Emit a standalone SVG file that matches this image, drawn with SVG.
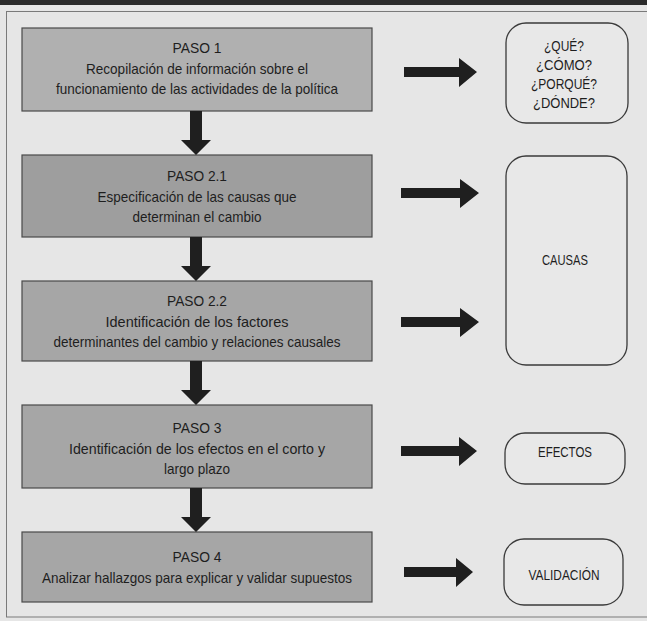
<svg xmlns="http://www.w3.org/2000/svg" width="647" height="621" viewBox="0 0 647 621">
<style>
.bg{fill:#e6e6e6}
.step{fill:#a6a6a6;stroke:#4a4a4a;stroke-width:1.2}
.out{fill:#e8e8e8;stroke:#3a3a3a;stroke-width:1.3}
.t{font-family:"Liberation Sans",Arial,sans-serif;font-size:15px;fill:#1e1e1e;text-anchor:middle}
.r{font-family:"Liberation Sans",Arial,sans-serif;font-size:14px;fill:#1e1e1e;text-anchor:middle}
.arr{fill:#1f1f1f}
</style>
<rect class="bg" x="0" y="0" width="647" height="621"/>
<rect x="0" y="0" width="647" height="5" fill="#2b2b2b"/>
<rect x="6.5" y="11.5" width="660" height="605.5" fill="none" stroke="#7a7a7a" stroke-width="1"/>

<g id="paso1">
<rect class="step" x="22" y="28" width="350" height="83" style="fill:#b0b0b0"/>
<text class="t" x="197" y="53" textLength="49" lengthAdjust="spacingAndGlyphs">PASO 1</text>
<text class="t" x="197" y="74" textLength="222" lengthAdjust="spacingAndGlyphs">Recopilación de información sobre el</text>
<text class="t" x="197" y="94" textLength="282" lengthAdjust="spacingAndGlyphs">funcionamiento de las actividades de la política</text>
</g>
<g id="paso21">
<rect class="step" x="22" y="155" width="350" height="82" style="fill:#9e9e9e"/>
<text class="t" x="197" y="181" textLength="60" lengthAdjust="spacingAndGlyphs">PASO 2.1</text>
<text class="t" x="197" y="202" textLength="199" lengthAdjust="spacingAndGlyphs">Especificación de las causas que</text>
<text class="t" x="197" y="222" textLength="129" lengthAdjust="spacingAndGlyphs">determinan el cambio</text>
</g>
<g id="paso22">
<rect class="step" x="22" y="281" width="350" height="80"/>
<text class="t" x="197" y="306" textLength="60" lengthAdjust="spacingAndGlyphs">PASO 2.2</text>
<text class="t" x="197" y="327" textLength="183" lengthAdjust="spacingAndGlyphs">Identificación de los factores</text>
<text class="t" x="197" y="347" textLength="287" lengthAdjust="spacingAndGlyphs">determinantes del cambio y relaciones causales</text>
</g>
<g id="paso3">
<rect class="step" x="22" y="405" width="350" height="83"/>
<text class="t" x="197" y="433" textLength="49" lengthAdjust="spacingAndGlyphs">PASO 3</text>
<text class="t" x="197" y="454" textLength="256" lengthAdjust="spacingAndGlyphs">Identificación de los efectos en el corto y</text>
<text class="t" x="197" y="474" textLength="66" lengthAdjust="spacingAndGlyphs">largo plazo</text>
</g>
<g id="paso4">
<rect class="step" x="22" y="532" width="350" height="70"/>
<text class="t" x="197" y="562" textLength="49" lengthAdjust="spacingAndGlyphs">PASO 4</text>
<text class="t" x="197" y="583" textLength="310" lengthAdjust="spacingAndGlyphs">Analizar hallazgos para explicar y validar supuestos</text>
</g>

<g id="preguntas">
<rect class="out" x="506" y="23" width="122" height="100" rx="20"/>
<text class="r" x="564" y="51" textLength="40" lengthAdjust="spacingAndGlyphs">¿QUÉ?</text>
<text class="r" x="564" y="70" textLength="56" lengthAdjust="spacingAndGlyphs">¿CÓMO?</text>
<text class="r" x="564" y="89" textLength="66" lengthAdjust="spacingAndGlyphs">¿PORQUÉ?</text>
<text class="r" x="564" y="108" textLength="62" lengthAdjust="spacingAndGlyphs">¿DÓNDE?</text>
</g>
<g id="causas">
<rect class="out" x="506" y="156" width="121" height="209" rx="20"/>
<text class="r" x="565" y="265" textLength="46" lengthAdjust="spacingAndGlyphs">CAUSAS</text>
</g>
<g id="efectos">
<rect class="out" x="505" y="433" width="120" height="51" rx="20"/>
<text class="r" x="565" y="457" textLength="54" lengthAdjust="spacingAndGlyphs">EFECTOS</text>
</g>
<g id="validacion">
<rect class="out" x="504" y="539" width="119" height="66" rx="20"/>
<text class="r" x="564" y="580" textLength="71" lengthAdjust="spacingAndGlyphs">VALIDACIÓN</text>
</g>

<g id="connectors">
<polygon class="arr" points="190,111 202,111 202,140 211,140 196,155 181,140 190,140"/>
<polygon class="arr" points="190,237 202,237 202,266 211,266 196,281 181,266 190,266"/>
<polygon class="arr" points="190,361 202,361 202,390 211,390 196,405 181,390 190,390"/>
<polygon class="arr" points="190,488 202,488 202,517 211,517 196,532 181,517 190,517"/>
<polygon class="arr" points="404,67 459,67 459,58 477,72 459,87 459,77 404,77"/>
<polygon class="arr" points="401,188 460,188 460,179 479,193 460,208 460,198 401,198"/>
<polygon class="arr" points="401,317 460,317 460,308 479,322 460,337 460,327 401,327"/>
<polygon class="arr" points="401,446 459,446 459,437 477,451 459,466 459,456 401,456"/>
<polygon class="arr" points="404,567 456,567 456,558 473,572 456,587 456,577 404,577"/>
</g>
</svg>
